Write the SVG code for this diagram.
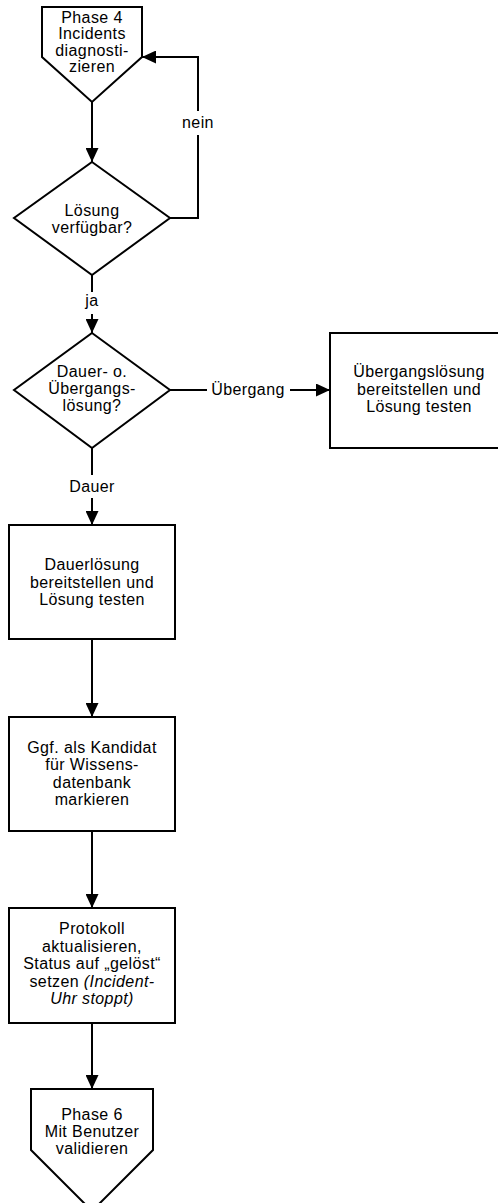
<svg xmlns="http://www.w3.org/2000/svg" width="498" height="1203" viewBox="0 0 498 1203">
  <style>
    .shape { fill: #ffffff; stroke: #000000; stroke-width: 2; }
    .conn { fill: none; stroke: #000000; stroke-width: 2; }
    .lbl { font-family: "Liberation Sans", Arial, sans-serif; font-size: 16px; letter-spacing: 0.4px; fill: #000000; text-anchor: middle; }
    .it { font-style: italic; }
  </style>
  <defs>
    <marker id="arrow" markerUnits="userSpaceOnUse" markerWidth="14" markerHeight="13" refX="14" refY="6.5" orient="auto">
      <path d="M0,0 L14,6.5 L0,13 z" fill="#000000"/>
    </marker>
  </defs>
  <rect width="498" height="1203" fill="#ffffff"/>

  <!-- connectors -->
  <g id="connectors">
    <path class="conn" d="M92,102 V162" marker-end="url(#arrow)"/>
    <path class="conn" d="M170,218 H198 V135"/>
    <path class="conn" d="M198,111 V57 H142" marker-end="url(#arrow)"/>
    <path class="conn" d="M92,275 V292"/>
    <path class="conn" d="M92,314 V333" marker-end="url(#arrow)"/>
    <path class="conn" d="M92,448 V475"/>
    <path class="conn" d="M92,498 V525" marker-end="url(#arrow)"/>
    <path class="conn" d="M170,390 H207"/>
    <path class="conn" d="M290,390 H330" marker-end="url(#arrow)"/>
    <path class="conn" d="M92,639 V717" marker-end="url(#arrow)"/>
    <path class="conn" d="M92,831 V908" marker-end="url(#arrow)"/>
    <path class="conn" d="M92,1023 V1089" marker-end="url(#arrow)"/>
    <text class="lbl" x="198" y="128">nein</text>
    <text class="lbl" x="92" y="306">ja</text>
    <text class="lbl" x="92" y="492">Dauer</text>
    <text class="lbl" x="248" y="395">Übergang</text>
  </g>

  <!-- start: phase 4 -->
  <g id="phase4">
    <polygon class="shape" points="42,7 142,7 142,57 92,102 42,57"/>
    <text class="lbl" x="92" y="22.5">Phase 4</text>
    <text class="lbl" x="92" y="39">Incidents</text>
    <text class="lbl" x="92" y="55.5">diagnosti-</text>
    <text class="lbl" x="92" y="72">zieren</text>
  </g>

  <!-- decision: solution available -->
  <g id="loesung-verfuegbar">
    <polygon class="shape" points="92,162 170,218 92,275 14,218"/>
    <text class="lbl" x="92" y="216">Lösung</text>
    <text class="lbl" x="92" y="232.5">verfügbar?</text>
  </g>

  <!-- decision: permanent or workaround -->
  <g id="dauer-uebergang">
    <polygon class="shape" points="92,333 170,390 92,448 14,390"/>
    <text class="lbl" x="92" y="377">Dauer- o.</text>
    <text class="lbl" x="92" y="394">Übergangs-</text>
    <text class="lbl" x="92" y="411">lösung?</text>
  </g>

  <!-- workaround -->
  <g id="uebergangsloesung">
    <rect class="shape" x="330" y="333" width="178" height="115"/>
    <text class="lbl" x="419" y="377">Übergangslösung</text>
    <text class="lbl" x="419" y="394.5">bereitstellen und</text>
    <text class="lbl" x="419" y="412">Lösung testen</text>
  </g>

  <!-- permanent solution -->
  <g id="dauerloesung">
    <rect class="shape" x="9" y="525" width="166" height="114"/>
    <text class="lbl" x="92" y="570">Dauerlösung</text>
    <text class="lbl" x="92" y="587.5">bereitstellen und</text>
    <text class="lbl" x="92" y="605">Lösung testen</text>
  </g>

  <!-- knowledge base candidate -->
  <g id="wissensdatenbank">
    <rect class="shape" x="9" y="717" width="166" height="114"/>
    <text class="lbl" x="92" y="753">Ggf. als Kandidat</text>
    <text class="lbl" x="92" y="770.3">für Wissens-</text>
    <text class="lbl" x="92" y="787.6">datenbank</text>
    <text class="lbl" x="92" y="805">markieren</text>
  </g>

  <!-- log update -->
  <g id="protokoll">
    <rect class="shape" x="9" y="908" width="166" height="115"/>
    <text class="lbl" x="92" y="934">Protokoll</text>
    <text class="lbl" x="92" y="951.5">aktualisieren,</text>
    <text class="lbl" x="92" y="969">Status auf „gelöst“</text>
    <text class="lbl" x="92" y="986.5">setzen <tspan class="it">(Incident-</tspan></text>
    <text class="lbl it" x="92" y="1004">Uhr stoppt)</text>
  </g>

  <!-- end: phase 6 -->
  <g id="phase6">
    <polygon class="shape" points="31,1089 153,1089 153,1150 92,1211 31,1150"/>
    <text class="lbl" x="92" y="1120">Phase 6</text>
    <text class="lbl" x="92" y="1137">Mit Benutzer</text>
    <text class="lbl" x="92" y="1154">validieren</text>
  </g>
</svg>
